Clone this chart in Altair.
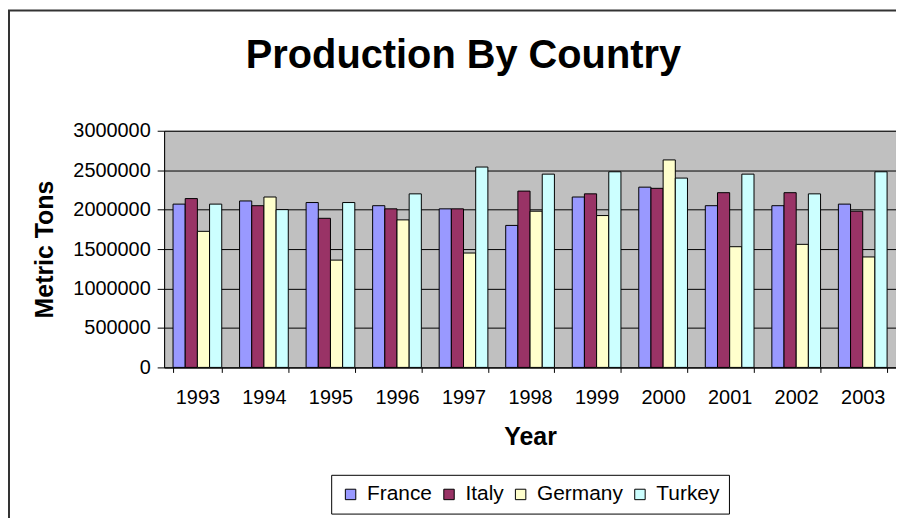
import altair as alt
import pandas as pd

years = ["1993", "1994", "1995", "1996", "1997", "1998", "1999", "2000", "2001", "2002", "2003"]
countries = ["France", "Italy", "Germany", "Turkey"]
france = [2070000, 2110000, 2090000, 2050000, 2010000, 1800000, 2160000, 2285000, 2050000, 2050000, 2070000]
italy = [2140000, 2050000, 1890000, 2010000, 2010000, 2235000, 2200000, 2270000, 2215000, 2215000, 1980000]
germany = [1725000, 2160000, 1360000, 1870000, 1450000, 1980000, 1925000, 2630000, 1530000, 1560000, 1400000]
turkey = [2070000, 2000000, 2090000, 2200000, 2540000, 2450000, 2480000, 2400000, 2450000, 2200000, 2480000]
colors = ["#9999FF", "#993366", "#FFFFCC", "#CCFFFF"]
y_ticks = [0, 500000, 1000000, 1500000, 2000000, 2500000, 3000000]

series = {"France": france, "Italy": italy, "Germany": germany, "Turkey": turkey}
rows = []
for c in countries:
    for yr, v in zip(years, series[c]):
        rows.append({"Year": yr, "Country": c, "Value": v})
df = pd.DataFrame(rows)

FONT = "Liberation Sans"

bars = alt.Chart(df).mark_bar(stroke="black", strokeWidth=1).encode(
    x=alt.X(
        "Year:N", sort=years,
        scale=alt.Scale(paddingInner=0.268, paddingOuter=0.134),
        axis=alt.Axis(title="Year", labelAngle=0, tickBand="extent", tickSize=5,
                      labelPadding=15, titlePadding=18, grid=False),
    ),
    xOffset=alt.XOffset("Country:N", sort=countries,
                        scale=alt.Scale(paddingInner=0, paddingOuter=0)),
    y=alt.Y(
        "Value:Q",
        scale=alt.Scale(domain=[0, 3000000], nice=False),
        axis=alt.Axis(title="Metric Tons", values=y_ticks, format="d", tickSize=7,
                      labelPadding=7, titlePadding=15, grid=True,
                      gridColor="black", gridOpacity=1, gridWidth=1),
    ),
    color=alt.Color(
        "Country:N", sort=countries,
        scale=alt.Scale(domain=countries, range=colors),
        legend=alt.Legend(
            title=None, orient="none", legendX=168, legendY=346,
            direction="horizontal", symbolType="square", symbolSize=110,
            symbolStrokeColor="black", symbolStrokeWidth=1,
            labelFontSize=21, labelFont=FONT, labelColor="black",
            padding=9, strokeColor="black", fillColor="white",
            columnPadding=6, labelOffset=6,
        ),
    ),
)

frame = alt.Chart(pd.DataFrame({"a": [0]})).mark_rect(
    filled=False, stroke="#333333", strokeWidth=2
).encode(
    x=alt.value(-156), x2=alt.value(900), y=alt.value(-121), y2=alt.value(600)
)

chart = alt.layer(bars, frame).properties(
    width=736,
    height=238,
    background="white",
    autosize=alt.AutoSizeParams(type="none"),
    padding={"left": 157, "top": 122, "right": 0, "bottom": 150},
    title=alt.TitleParams(
        "Production By Country", fontSize=40, fontWeight="bold", font=FONT,
        color="black", anchor="middle", frame="group", dx=-67, offset=-67,
    ),
).configure_view(
    fill="#C0C0C0", stroke="#808080", strokeWidth=1
).configure_axis(
    labelFont=FONT, labelFontSize=20, labelColor="black",
    titleFont=FONT, titleFontSize=25, titleFontWeight="bold", titleColor="black",
    domainColor="black", tickColor="black", domainWidth=1, tickWidth=1,
)

chart.save("out.html", embed_options={"renderer": "svg", "actions": False})
